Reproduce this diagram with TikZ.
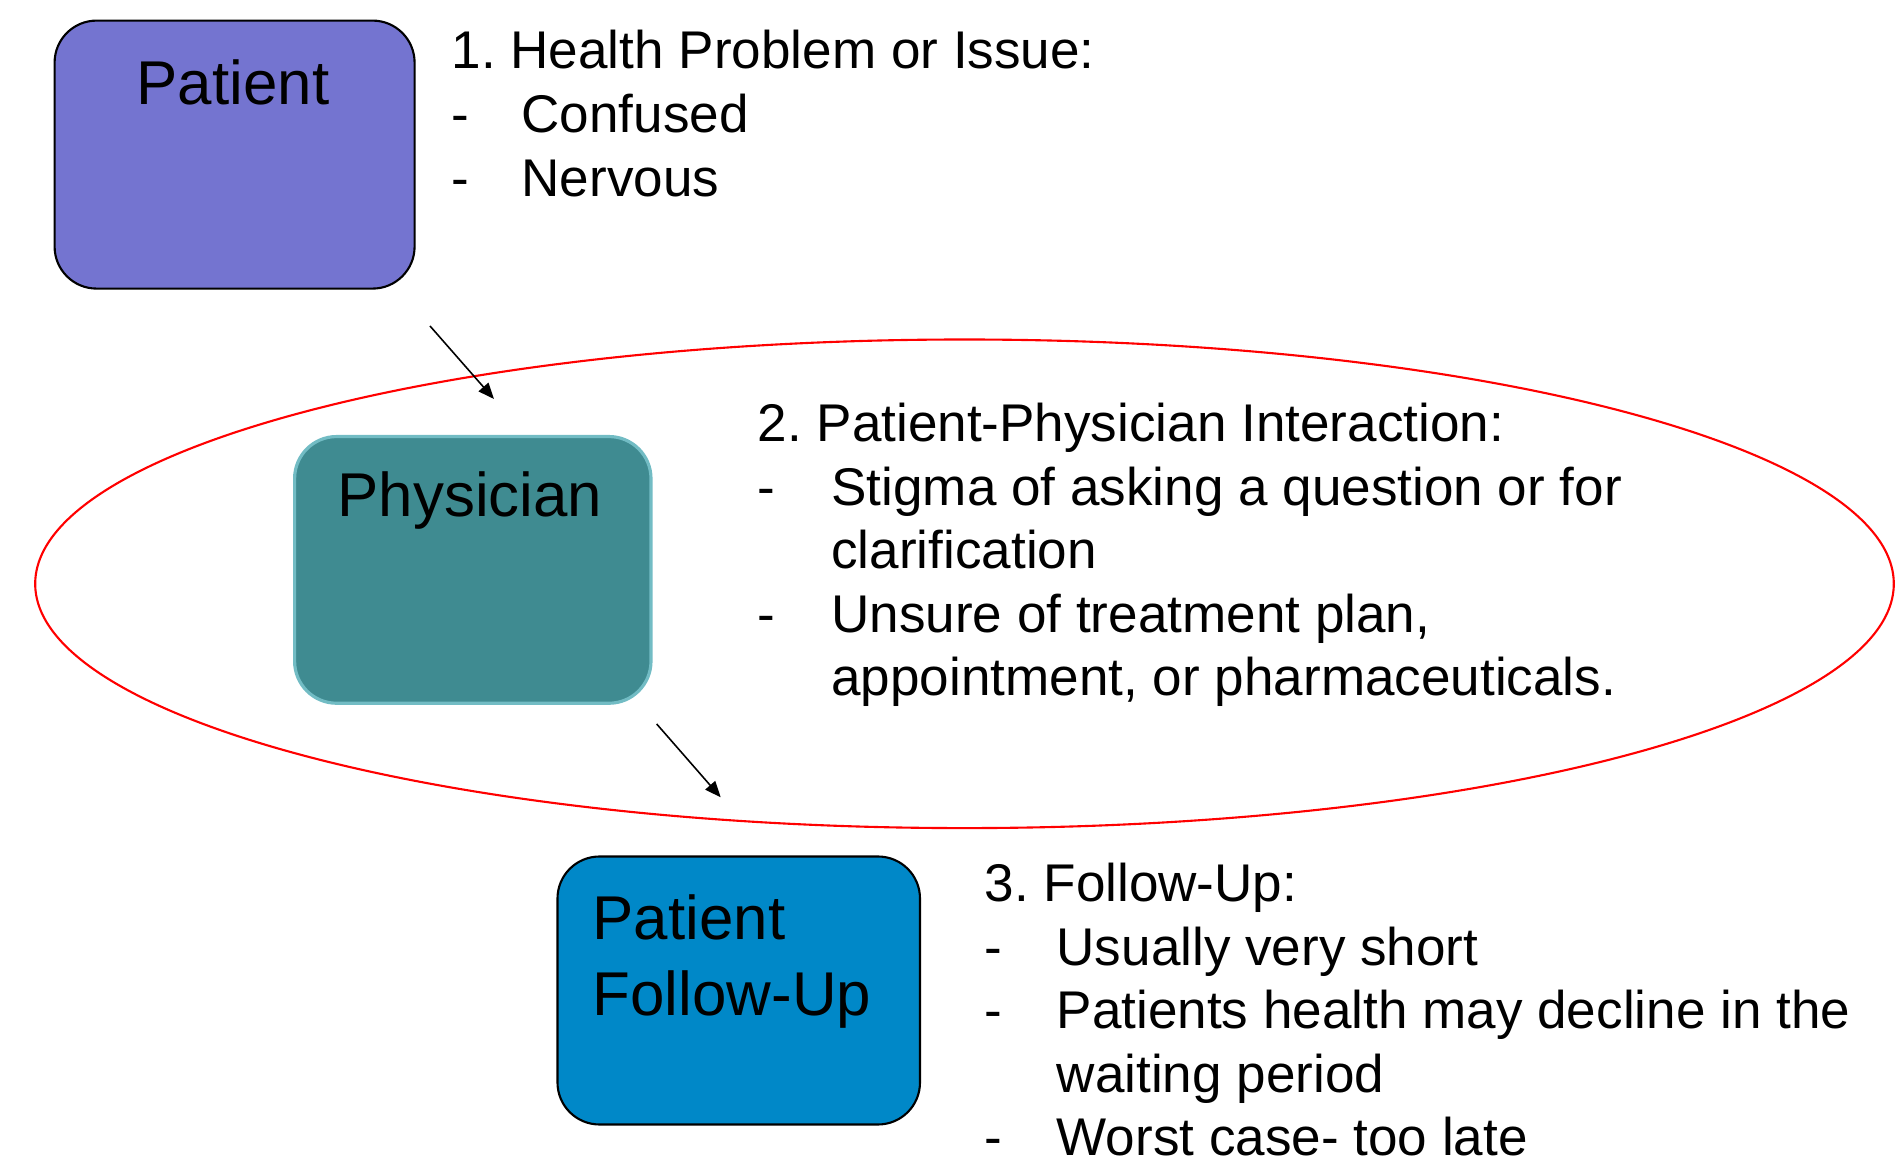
\documentclass[tikz,border=0pt]{standalone}
\usepackage{fontspec}
\setmainfont{Liberation Sans}
\usetikzlibrary{arrows.meta}
\frenchspacing

\definecolor{patientfill}{RGB}{116,116,208}
\definecolor{physfill}{RGB}{63,139,145}
\definecolor{physline}{RGB}{114,188,196}
\definecolor{followfill}{RGB}{0,136,200}

\begin{document}
\begin{tikzpicture}
\tikzset
{%方框、文字与箭头的样式
  box/.style={draw,line width=0.6pt,rounded corners=4.2mm,inner sep=0pt},
  boxtext/.style={inner sep=0pt,font=\fontsize{17.6}{21.6}\selectfont},
  notes/.style={inner sep=0pt,anchor=base west,font=\fontsize{15.1}{18.07}\selectfont},
  link/.style={line width=0.45pt,-{Triangle[length=1.6mm,width=1.3mm]}},
}
\useasboundingbox (0,0) rectangle (19.01,-11.61);

\path[draw,red,line width=0.6pt] (9.645,-5.838) ellipse [x radius=9.293,y radius=2.443];

\node[box,fill=patientfill,minimum width=3.6cm,minimum height=2.68cm] (patient) at (2.346,-1.546) {};
\node[box,fill=physfill,draw=physline,line width=0.9pt,minimum width=3.564cm,minimum height=2.667cm] (physician) at (4.728,-5.699) {};
\node[box,fill=followfill,minimum width=3.625cm,minimum height=2.68cm] (followup) at (7.3875,-9.905) {};

\node[boxtext,anchor=base] (patientname) at (2.33,-1.05) {Patient};
\node[boxtext,anchor=base] (physname) at (4.70,-5.167) {Physician};
\node[boxtext,anchor=base west] (followname) at (5.92,-9.393)
  {\begin{tabular}[t]{@{}l@{}}Patient\\Follow-Up\end{tabular}};

\node[notes] (issue) at (4.51,-0.69) {\begin{tabular}[t]{@{}p{0.70cm}@{}l@{}}
\multicolumn{2}{@{}l@{}}{1. Health Problem or Issue:}\\
- & Confused\\
- & Nervous
\end{tabular}};
\node[notes] (interaction) at (7.57,-4.417) {\begin{tabular}[t]{@{}p{0.737cm}@{}l@{}}
\multicolumn{2}{@{}l@{}}{2. Patient-Physician Interaction:}\\
- & Stigma of asking a question or for\\
  & clarification\\
- & Unsure of treatment plan,\\
  & appointment, or pharmaceuticals.
\end{tabular}};
\node[notes] (follownotes) at (9.84,-9.017) {\begin{tabular}[t]{@{}p{0.72cm}@{}l@{}}
\multicolumn{2}{@{}l@{}}{3. Follow-Up:}\\
- & Usually very short\\
- & Patients health may decline in the\\
  & waiting period\\
- & Worst case- too late
\end{tabular}};

\coordinate (in1) at (4.30,-3.26);
\coordinate (in2) at (4.94,-3.99);
\coordinate (out1) at (6.567,-7.24);
\coordinate (out2) at (7.207,-7.973);
\draw[link] (in1) -- (in2);
\draw[link] (out1) -- (out2);
\end{tikzpicture}
\end{document}
